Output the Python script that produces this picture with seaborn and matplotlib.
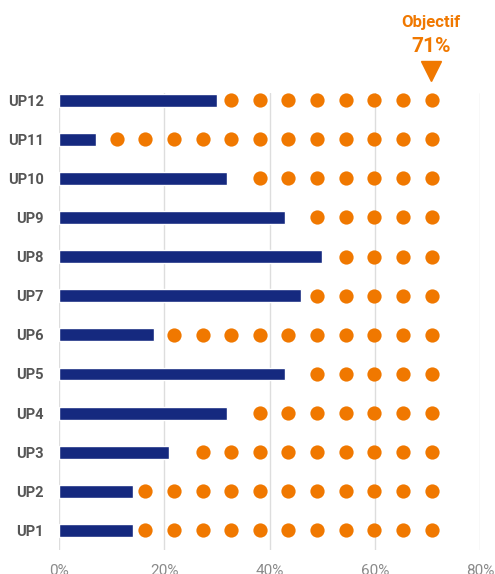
import matplotlib
matplotlib.use("Agg")
import matplotlib.pyplot as plt
import matplotlib.transforms as mtransforms
import seaborn as sns
import pandas as pd

# values
units = ["UP12", "UP11", "UP10", "UP9", "UP8", "UP7", "UP6", "UP5", "UP4", "UP3", "UP2", "UP1"]
rates = [30, 7, 32, 43, 50, 46, 18, 43, 32, 21, 14, 14]
dot_counts = [8, 12, 7, 5, 4, 5, 10, 5, 7, 9, 11, 11]
target = 71
last_dot = 70.8
dot_step = 5.44
x_ticks = [0, 20, 40, 60, 80]

navy = "#15297f"
orange = "#f07800"

sns.set_theme(style="white")
plt.rcParams["font.family"] = ["Roboto", "DejaVu Sans"]

bars = pd.DataFrame({"unit": units, "rate": rates})
dot_rows = []
for u, n in zip(units, dot_counts):
    for k in range(n):
        dot_rows.append({"unit": u, "x": last_dot - k * dot_step})
dots = pd.DataFrame(dot_rows)

fig = plt.figure(figsize=(4.95, 5.74), dpi=100)
ax = fig.add_axes([0.119, 0.0418, 0.851, 0.796])

sns.barplot(data=bars, x="rate", y="unit", order=units, color=navy,
            width=0.33, saturation=1, ax=ax)
sns.scatterplot(data=dots, x="x", y="unit", color=orange, s=105,
                linewidth=0, ax=ax, zorder=3)

ax.set_xlim(0, 80)
ax.set_ylim(11.5, -0.18)
ax.set_xticks(x_ticks)
ax.set_xticklabels([f"{t}%" for t in x_ticks], color="#8a8a8a", fontsize=11)
ax.tick_params(axis="x", length=0, pad=10)
ax.tick_params(axis="y", length=0, pad=11)
for lab in ax.get_yticklabels():
    lab.set_fontweight("bold")
    lab.set_color("#555555")
    lab.set_fontsize(10.5)
ax.set_xlabel("")
ax.set_ylabel("")
ax.grid(axis="x", color="#dddddd", linewidth=1)
ax.set_axisbelow(True)
for s in ax.spines.values():
    s.set_visible(False)

# target annotation above the chart
trans = mtransforms.blended_transform_factory(ax.transData, fig.transFigure)
fig.text(target - 0.3, 1 - 22 / 574, "Objectif", transform=trans, ha="center", va="center",
         color=orange, fontweight="bold", fontsize=12)
fig.text(target - 0.3, 1 - 46 / 574, f"{target}%", transform=trans, ha="center", va="center",
         color=orange, fontweight="bold", fontsize=15)
ax.plot([target - 0.3], [1 - 71 / 574], marker="v", markersize=15, color=orange,
        transform=trans, clip_on=False, linestyle="none")

fig.savefig("out.png", dpi=100)
